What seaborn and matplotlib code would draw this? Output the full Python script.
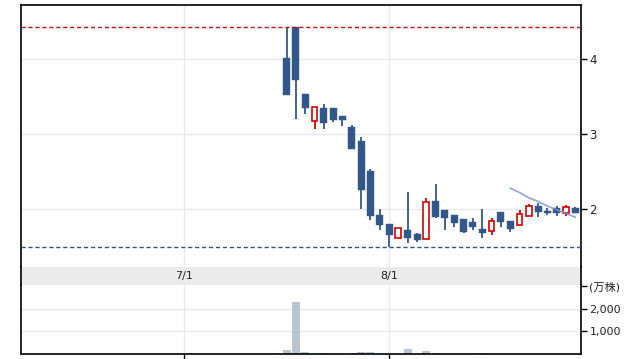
import matplotlib
matplotlib.use("Agg")
import matplotlib.pyplot as plt
import seaborn as sns
import pandas as pd

# ---- data (trading-day offset from 7/1) ----
day = [11, 12, 13, 14, 15, 16, 17, 18, 19, 20, 21, 22, 23, 24, 25, 26,
       27, 28, 29, 30, 31, 32, 33, 34, 35, 36, 37, 38, 39, 40, 41, 42]
open_ = [4.01, 4.43, 3.53, 3.17, 3.35, 3.35, 3.24, 3.09, 2.91, 2.51, 1.92, 1.80,
         1.61, 1.72, 1.67, 1.60, 2.11, 1.99, 1.92, 1.87, 1.83, 1.73, 1.71, 1.96,
         1.84, 1.79, 1.91, 2.04, 1.97, 2.01, 1.95, 2.01]
high = [4.43, 4.43, 3.53, 3.36, 3.40, 3.35, 3.24, 3.12, 2.96, 2.53, 2.00, 1.80,
        1.75, 2.23, 1.68, 2.15, 2.33, 1.99, 1.92, 1.87, 1.88, 2.00, 1.88, 1.96,
        1.84, 1.99, 2.07, 2.08, 2.01, 2.04, 2.05, 2.03]
low = [3.52, 3.20, 3.27, 3.07, 3.07, 3.16, 3.11, 2.80, 2.00, 1.85, 1.72, 1.49,
       1.61, 1.55, 1.56, 1.60, 1.88, 1.72, 1.76, 1.68, 1.72, 1.61, 1.65, 1.76,
       1.69, 1.79, 1.91, 1.89, 1.92, 1.91, 1.91, 1.95]
close = [3.52, 3.72, 3.35, 3.36, 3.15, 3.19, 3.19, 2.80, 2.25, 1.91, 1.79, 1.65,
         1.75, 1.61, 1.59, 2.09, 1.89, 1.88, 1.81, 1.69, 1.76, 1.68, 1.84, 1.83,
         1.73, 1.93, 2.04, 1.96, 1.95, 1.95, 2.03, 1.95]
volume = [160, 2270, 70, 20, 40, 15, 15, 50, 80, 80, 20, 20, 20, 210, 20, 130,
          40, 15, 15, 15, 10, 25, 15, 10, 10, 10, 10, 10, 10, 10, 10, 10]
ma_day = [35, 36, 37, 38, 39, 40, 41, 42]
ma_val = [2.28, 2.22, 2.15, 2.10, 2.04, 1.99, 1.94, 1.89]

date_ticks = [0, 22]
date_labels = ["7/1", "8/1"]
price_ticks = [2, 3, 4]
vol_ticks = [1000, 2000, 3000]
vol_labels = ["1,000", "2,000", "(万株)"]

# ---- style ----
sns.set_style("white")
plt.rcParams["font.family"] = ["DejaVu Sans", "Noto Sans CJK JP"]

UP = "#d40000"
DOWN = "#34578a"
GRID = "#e9e9e9"
TXT = "#222222"

fig = plt.figure(figsize=(6.31, 3.59), dpi=100)
W, H = 631, 359
def box(x0, y0, x1, y1):
    return [x0 / W, 1 - y1 / H, (x1 - x0) / W, (y1 - y0) / H]

ax = fig.add_axes(box(21, 5, 581, 267))
axb = fig.add_axes(box(21, 267, 581, 285))
axv = fig.add_axes(box(21, 285, 581, 354))

XL = (-17.5, 42.6)

# ---- price panel ----
df = pd.DataFrame({"day": day, "open": open_, "high": high, "low": low,
                   "close": close, "volume": volume})
df["up"] = df["close"] > df["open"]

for g in price_ticks:
    ax.axhline(g, color=GRID, lw=1, zorder=0)
for d in date_ticks:
    ax.axvline(d, color=GRID, lw=1, zorder=0)

bw = 0.75
for _, r in df.iterrows():
    col = UP if r["up"] else DOWN
    ax.vlines(r["day"], r["low"], r["high"], color=col, lw=1.3, zorder=2)
    bot = min(r["open"], r["close"])
    h = max(abs(r["close"] - r["open"]), 0.01)
    if r["up"]:
        ax.bar(r["day"], h, bottom=bot, width=bw - 0.12, color="white",
               edgecolor=UP, linewidth=1.2, zorder=3)
    else:
        ax.bar(r["day"], h, bottom=bot, width=bw, color=DOWN,
               edgecolor=DOWN, linewidth=0.3, zorder=3)

ax.axhline(df["high"].max(), color="#c01010", lw=1, ls=(0, (3, 2)), zorder=4)
ax.axhline(df["low"].min(), color="#2f5384", lw=1, ls=(0, (3, 2)), zorder=4)

sns.lineplot(x=ma_day, y=ma_val, ax=ax, color="#7b94cf", lw=1.2, alpha=0.85,
             zorder=5)

ax.set_xlim(*XL)
ax.set_ylim(1.227, 4.72)
ax.set_xticks([])
ax.yaxis.tick_right()
ax.set_yticks(price_ticks)
ax.set_yticklabels([str(t) for t in price_ticks])
ax.tick_params(axis="y", which="both", direction="out", length=4, width=1,
               color="black", labelsize=8.5, labelcolor=TXT, pad=2, right=True, left=False)
for s in ["top", "left", "right"]:
    ax.spines[s].set_visible(True)
    ax.spines[s].set_color("black")
    ax.spines[s].set_linewidth(1.2)
ax.spines["bottom"].set_visible(False)
ax.set_xlabel("")
ax.set_ylabel("")

# ---- date band ----
axb.set_facecolor("#ebebeb")
axb.set_xlim(*XL)
axb.set_ylim(0, 1)
axb.set_xticks([])
axb.set_yticks([])
for d, lab in zip(date_ticks, date_labels):
    axb.text(d, 0.5, lab, ha="center", va="center", fontsize=8, color=TXT)
for s in ["left", "right"]:
    axb.spines[s].set_visible(True)
    axb.spines[s].set_color("black")
    axb.spines[s].set_linewidth(1.2)
axb.spines["top"].set_visible(False)
axb.spines["bottom"].set_visible(False)

# ---- volume panel ----
for g in vol_ticks[:2]:
    axv.axhline(g, color=GRID, lw=1, zorder=0)
for d in date_ticks:
    axv.axvline(d, color=GRID, lw=1, zorder=0)
sns.barplot(data=df, x="day", y="volume", native_scale=True, width=0.85,
            color="#b8c5cf", saturation=1, errorbar=None, ax=axv, zorder=2,
            linewidth=0)
axv.set_xlim(*XL)
axv.set_ylim(0, 3040)
axv.set_xticks(date_ticks)
axv.set_xticklabels([])
axv.tick_params(axis="x", direction="out", length=4, width=1, color="black",
                bottom=True)
axv.yaxis.tick_right()
axv.set_yticks(vol_ticks)
axv.set_yticklabels(vol_labels)
axv.tick_params(axis="y", which="both", direction="out", length=4, width=1,
                color="black", labelsize=8, labelcolor=TXT, pad=2, right=True, left=False)
for s in ["left", "right", "bottom"]:
    axv.spines[s].set_visible(True)
    axv.spines[s].set_color("black")
    axv.spines[s].set_linewidth(1.2)
axv.spines["top"].set_visible(False)
axv.set_xlabel("")
axv.set_ylabel("")

fig.savefig("out.png", dpi=100)
